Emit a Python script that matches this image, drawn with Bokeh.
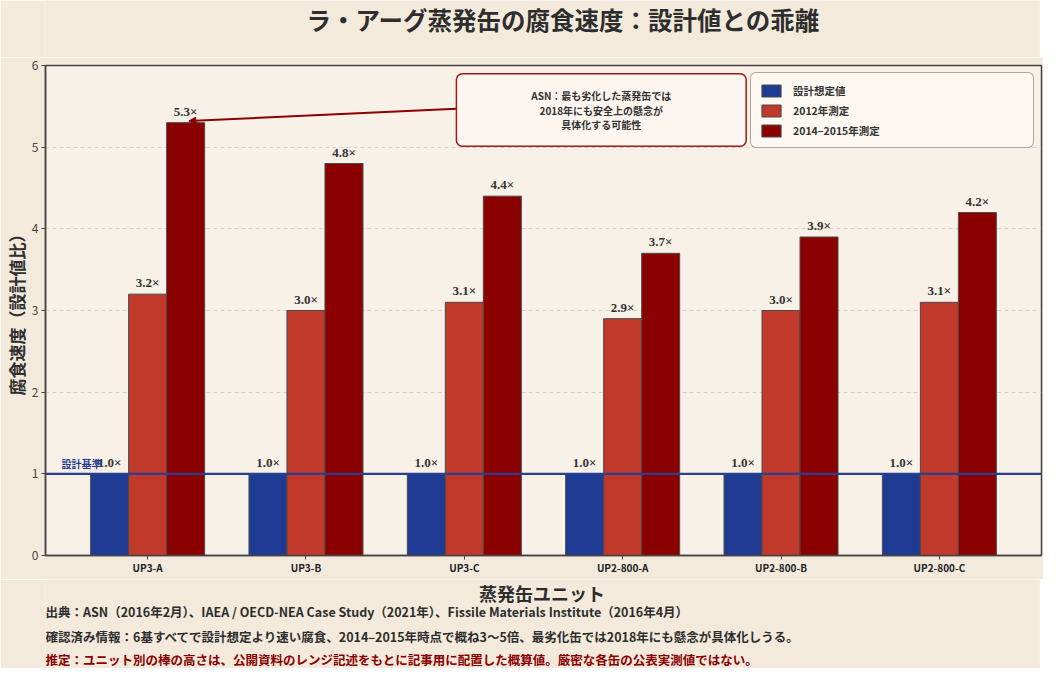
from bokeh.plotting import figure
from bokeh.layouts import column
from bokeh.models import (ColumnDataSource, LabelSet, Label, Span, Arrow, NormalHead,
                          BoxAnnotation, FixedTicker, Range1d)
from bokeh.transform import dodge
from bokeh.embed import file_html
from bokeh.resources import INLINE

# ---------------- data ----------------
units = ["UP3-A", "UP3-B", "UP3-C", "UP2-800-A", "UP2-800-B", "UP2-800-C"]
design = [1.0, 1.0, 1.0, 1.0, 1.0, 1.0]
m2012 = [3.2, 3.0, 3.1, 2.9, 3.0, 3.1]
m2015 = [5.3, 4.8, 4.4, 3.7, 3.9, 4.2]
series_names = ["設計想定値", "2012年測定", "2014–2015年測定"]
y_ticks = [0, 1, 2, 3, 4, 5, 6]
baseline = 1.0

title_text = "ラ・アーグ蒸発缶の腐食速度：設計値との乖離"
x_label = "蒸発缶ユニット"
y_label = "腐食速度（設計値比）"
baseline_label = "設計基準"
callout_text = "ASN：最も劣化した蒸発缶では\n2018年にも安全上の懸念が\n具体化する可能性"
notes = [
    "出典：ASN（2016年2月）、IAEA / OECD-NEA Case Study（2021年）、Fissile Materials Institute（2016年4月）",
    "確認済み情報：6基すべてで設計想定より速い腐食、2014–2015年時点で概ね3〜5倍、最劣化缶では2018年にも懸念が具体化しうる。",
    "推定：ユニット別の棒の高さは、公開資料のレンジ記述をもとに記事用に配置した概算値。厳密な各缶の公表実測値ではない。",
]

# ---------------- styles / layout ----------------
FONT = "Noto Sans CJK JP"
colors = ["#1F3A93", "#C0392B", "#8B0000"]
TEXT = "#2E2E2E"
PAGE_BG = "#F3EADC"
PLOT_BG = "#F8F1E7"
BAR_W = 0.24
offsets = [-BAR_W, 0.0, BAR_W]

HEAD_H, FOOT_H = 57, 89
FRAME_W, FRAME_H = 996, 490
B_LEFT, B_RIGHT, B_TOP, B_BOTTOM = 42, 2, 8, 24
X0, X1 = -0.645, len(units) - 1 + 0.645
Y0, Y1 = 0, 6
PX_X = FRAME_W / (X1 - X0)
W = B_LEFT + FRAME_W + B_RIGHT


def text_strip(height):
    # a plain strip sharing the chart's x scale (frames are aligned by the column)
    f = figure(width=W, height=height, x_range=Range1d(X0, X1), y_range=Range1d(height, 0),
               min_border=0, x_axis_location=None, y_axis_location=None,
               toolbar_location=None, output_backend="svg", title=None)
    f.grid.visible = False
    f.outline_line_color = None
    f.background_fill_color = PAGE_BG
    f.border_fill_color = PAGE_BG
    return f


# ---------------- header ----------------
head = text_strip(HEAD_H)
head.add_layout(Label(x=(X0 + X1) / 2 + 21 / PX_X, y=19, text=title_text,
                      text_align="center", text_baseline="middle",
                      text_font=FONT, text_font_size="24.5px", text_font_style="bold",
                      text_color=TEXT))

# ---------------- main chart ----------------
idx = list(range(len(units)))
src = ColumnDataSource(dict(
    x=idx,
    design=design, m2012=m2012, m2015=m2015,
    l_design=[f"{v:.1f}×" for v in design],
    l_m2012=[f"{v:.1f}×" for v in m2012],
    l_m2015=[f"{v:.1f}×" for v in m2015],
))

p = figure(frame_width=FRAME_W, frame_height=FRAME_H,
           x_range=(X0, X1), y_range=(Y0, Y1),
           output_backend="svg", toolbar_location=None, title=None,
           min_border_left=B_LEFT, min_border_right=B_RIGHT,
           min_border_top=B_TOP, min_border_bottom=B_BOTTOM)
p.background_fill_color = PLOT_BG
p.border_fill_color = PAGE_BG
p.outline_line_color = "#444444"
p.outline_line_width = 1.5

p.xgrid.visible = False
p.ygrid.ticker = FixedTicker(ticks=y_ticks)
p.ygrid.grid_line_color = "#CFC7BB"
p.ygrid.grid_line_dash = "4 3"
p.ygrid.grid_line_width = 0.8

fields = ["design", "m2012", "m2015"]
for field, off, col, name in zip(fields, offsets, colors, series_names):
    p.vbar(x=dodge("x", off), top=field, width=BAR_W, source=src,
           fill_color=col, line_color="#4A4A4A", line_width=1, legend_label=name)
    p.add_layout(LabelSet(x=dodge("x", off), y=field, text="l_" + field, source=src,
                          y_offset=4, text_align="center", text_baseline="bottom",
                          text_font=FONT, text_font_size="13px", text_font_style="bold",
                          text_color="#333333"))

p.add_layout(Span(location=baseline, dimension="width", line_color="#2A3F8F", line_width=2.2))
p.add_layout(Label(x=X0 + 16 / PX_X, y=baseline, y_offset=3, text=baseline_label,
                   text_baseline="bottom", text_align="left",
                   text_font=FONT, text_font_size="10px", text_font_style="bold",
                   text_color="#1F3A93"))

worst = max(range(len(units)), key=lambda i: m2015[i])
box = BoxAnnotation(left=1.95, right=3.78, top=5.90, bottom=5.01,
                    fill_color="#FDF5EF", fill_alpha=1.0,
                    line_color="#9B1B1B", line_alpha=1.0, line_width=1.5)
if "border_radius" in BoxAnnotation.properties():
    box.border_radius = 6
p.add_layout(Arrow(end=NormalHead(size=7, fill_color="#8B0000", line_color="#8B0000"),
                   x_start=1.95, y_start=5.47,
                   x_end=worst + offsets[2] + 0.02, y_end=m2015[worst] + 0.02,
                   line_color="#8B0000", line_width=2))
p.add_layout(box)
p.add_layout(Label(x=2.865, y=5.455, text=callout_text,
                   text_align="center", text_baseline="middle",
                   text_font=FONT, text_font_size="10px", text_font_style="bold",
                   text_color="#333333", text_line_height=0.95))

p.xaxis.ticker = FixedTicker(ticks=idx)
p.xaxis.major_label_overrides = {i: u for i, u in enumerate(units)}
p.yaxis.ticker = FixedTicker(ticks=y_ticks)
for ax in (p.xaxis[0], p.yaxis[0]):
    ax.axis_line_color = "#444444"
    ax.axis_line_width = 1.5
    ax.major_tick_line_color = "#444444"
    ax.major_tick_out = 4
    ax.major_tick_in = 0
    ax.minor_tick_line_color = None
    ax.major_label_text_font = FONT
p.xaxis.major_label_standoff = 0
p.xaxis.major_label_text_font_size = "10px"
p.xaxis.major_label_text_font_style = "bold"
p.xaxis.major_label_text_color = "#222222"
p.yaxis.axis_label = y_label
p.yaxis.axis_label_text_font = FONT
p.yaxis.axis_label_text_font_style = "bold"
p.yaxis.axis_label_text_color = TEXT
p.yaxis.axis_label_text_font_size = "17px"
p.yaxis.axis_label_standoff = 0
p.yaxis.major_label_standoff = 3
p.yaxis.major_label_text_font_size = "12px"
p.yaxis.major_label_text_color = "#444444"

lg = p.legend[0]
lg.location = "top_right"
lg.margin = 7
lg.padding = 8
lg.spacing = 2
lg.glyph_width = 24
lg.glyph_height = 15
lg.label_width = 232
lg.label_height = 18
lg.label_standoff = 10
lg.label_text_font = FONT
lg.label_text_font_size = "10.5px"
lg.label_text_font_style = "bold"
lg.label_text_color = "#333333"
lg.background_fill_color = "#FDF8F2"
lg.background_fill_alpha = 1.0
lg.border_line_color = "#555555"
lg.border_line_width = 1.2
if "border_radius" in type(lg).properties():
    lg.border_radius = 6

# ---------------- footer: x-axis title and notes ----------------
foot = text_strip(FOOT_H)
foot.add_layout(Label(x=(X0 + X1) / 2, y=13, text=x_label,
                      text_align="center", text_baseline="middle",
                      text_font=FONT, text_font_size="18px", text_font_style="bold",
                      text_color=TEXT))
note_colors = [TEXT, TEXT, "#8B0000"]
note_y = [32, 57, 80]
for txt, col, yy in zip(notes, note_colors, note_y):
    foot.add_layout(Label(x=X0, y=yy, text=txt,
                          text_align="left", text_baseline="middle",
                          text_font=FONT, text_font_size="12.5px", text_font_style="bold",
                          text_color=col))

layout = column(head, p, foot, spacing=0)
open("out.html", "w").write(file_html(layout, INLINE))
